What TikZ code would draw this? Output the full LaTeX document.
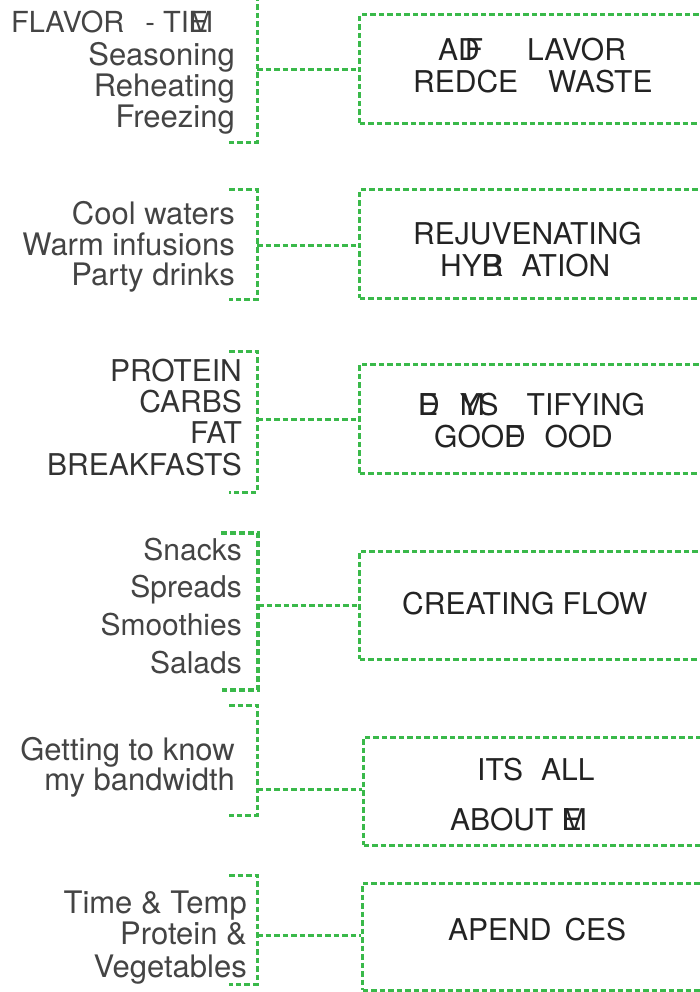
\documentclass[tikz,border=0pt]{standalone}
\usepackage{fontspec}
\setmainfont{TeX Gyre Heros}
\definecolor{gd}{RGB}{58,185,74}
\definecolor{labgray}{RGB}{68,68,68}
\definecolor{boxtext}{RGB}{35,35,35}
\newcommand\ovl[2]{\makebox[0pt][l]{#1}#2}
\begin{document}
\begin{tikzpicture}[x=1pt,y=-1pt,
  gdash/.style={draw=gd, line width=3pt, dash pattern=on 5.5pt off 3pt},
  gdashthick/.style={draw=gd, line width=3.6pt, dash pattern=on 6pt off 3pt},
  lab/.style={anchor=east, inner sep=0pt, text height=22pt, text depth=0pt, font=\fontsize{31}{33}\selectfont, text=labgray},
  labmid/.style={lab, text height=21.5pt, font=\fontsize{30}{32}\selectfont},
  labbig/.style={lab, text height=21.5pt, font=\fontsize{30}{32}\selectfont, text=black!80},
  ttl/.style={anchor=west, inner sep=0pt, text height=21.5pt, text depth=0pt, font=\fontsize{30}{32}\selectfont, text=boxtext},
  box/.style={gdash, inner sep=0pt, minimum width=#1, anchor=west},
]
\useasboundingbox (0,0) rectangle (700,992);

% ---------- Block 1
\node[anchor=west, inner sep=0pt, text height=21pt, text depth=0pt, font=\fontsize{29}{31}\selectfont, text=labgray] (t1) at (11,22) {FLAVOR\hspace{21pt}- TI\ovl{E}{M}};
\node[lab] (l1a) at (235,55) {Seasoning};
\node[lab] (l1b) at (235,86) {Reheating};
\node[lab] (l1c) at (235,117) {Freezing};
\draw[gdash] (257,-4) -- (257,143) -- (229,143);
\coordinate (k1) at (257,70);
\node[box=370pt, minimum height=109pt] (box1) at (358,69.5) {};
\draw[gdash] (k1) -- (k1 -| box1.west);
\node[ttl] (b1a) at (438,50) {AD\kern-15pt F\hspace{44pt}LAVOR};
\node[ttl] (b1b) at (413,82) {REDCE\hspace{30pt}WASTE};

% ---------- Block 2
\node[lab] (l2a) at (235,214) {Cool waters};
\node[lab] (l2b) at (235,244) {Warm infusions};
\node[lab] (l2c) at (235,274) {Party drinks};
\draw[gdash] (229,190) -- (257,190) -- (257,299) -- (229,299);
\coordinate (k2) at (257,245);
\node[box=370pt, minimum height=108pt] (box2) at (358,244) {};
\draw[gdash] (k2) -- (k2 -| box2.west);
\node[ttl] (b2a) at (413,234) {REJUVENATING};
\node[ttl] (b2b) at (440,266) {HY\ovl{B}{R}\hspace{18pt}ATION};

% ---------- Block 3
\node[labbig] (l3a) at (242,371) {PROTEIN};
\node[labbig] (l3b) at (242,402) {CARBS};
\node[labbig] (l3c) at (242,433) {FAT};
\node[labbig] (l3d) at (242,465) {BREAKFASTS};
\draw[gdash] (229,351) -- (257,351) -- (257,492) -- (229,492);
\coordinate (k3) at (257,419);
\node[box=370pt, minimum height=109pt] (box3) at (358,418.5) {};
\draw[gdash] (k3) -- (k3 -| box3.west);
\node[ttl] (b3a) at (418,405) {\ovl{E}{D}\hspace{20pt}\ovl{M}{Y}S\hspace{28pt}TIFYING};
\node[ttl] (b3b) at (434,437) {GOO\ovl{D}{F}\hspace{22pt}OOD};

% ---------- Block 4
\node[labmid] (l4a) at (242,550) {Snacks};
\node[labmid] (l4b) at (242,587) {Spreads};
\node[labmid] (l4c) at (242,625) {Smoothies};
\node[labmid] (l4d) at (242,663) {Salads};
\draw[gdashthick] (221,533) -- (258,533) -- (258,690) -- (222,690);
\coordinate (k4) at (258,605);
\node[box=370pt, minimum height=108pt] (box4) at (358,605) {};
\draw[gdash] (k4) -- (k4 -| box4.west);
\node[ttl] (b4a) at (402,604) {CREATING FLOW};

% ---------- Block 5
\node[lab] (l5a) at (235,749) {Getting to know};
\node[lab] (l5b) at (235,779) {my bandwidth};
\draw[gdash] (229,705) -- (257,705) -- (257,815) -- (229,815);
\coordinate (k5) at (257,789);
\node[box=370pt, minimum height=108pt] (box5) at (362,791) {};
\draw[gdash] (k5) -- (k5 -| box5.west);
\node[ttl] (b5a) at (477,770) {ITS\hspace{18pt}ALL};
\node[ttl] (b5b) at (450,820) {ABOUT \ovl{E}{M}};

% ---------- Block 6
\node[lab] (l6a) at (247,902) {Time \& Temp};
\node[lab] (l6b) at (247,933) {Protein \&};
\node[lab] (l6c) at (247,966) {Vegetables};
\draw[gdash] (229,875) -- (257,875) -- (257,984) -- (229,984);
\coordinate (k6) at (257,935);
\node[box=370pt, minimum height=107pt] (box6) at (361,936.5) {};
\draw[gdash] (k6) -- (k6 -| box6.west);
\node[ttl] (b6a) at (448,930) {APEND\hspace{13pt}CES};
\end{tikzpicture}
\end{document}
